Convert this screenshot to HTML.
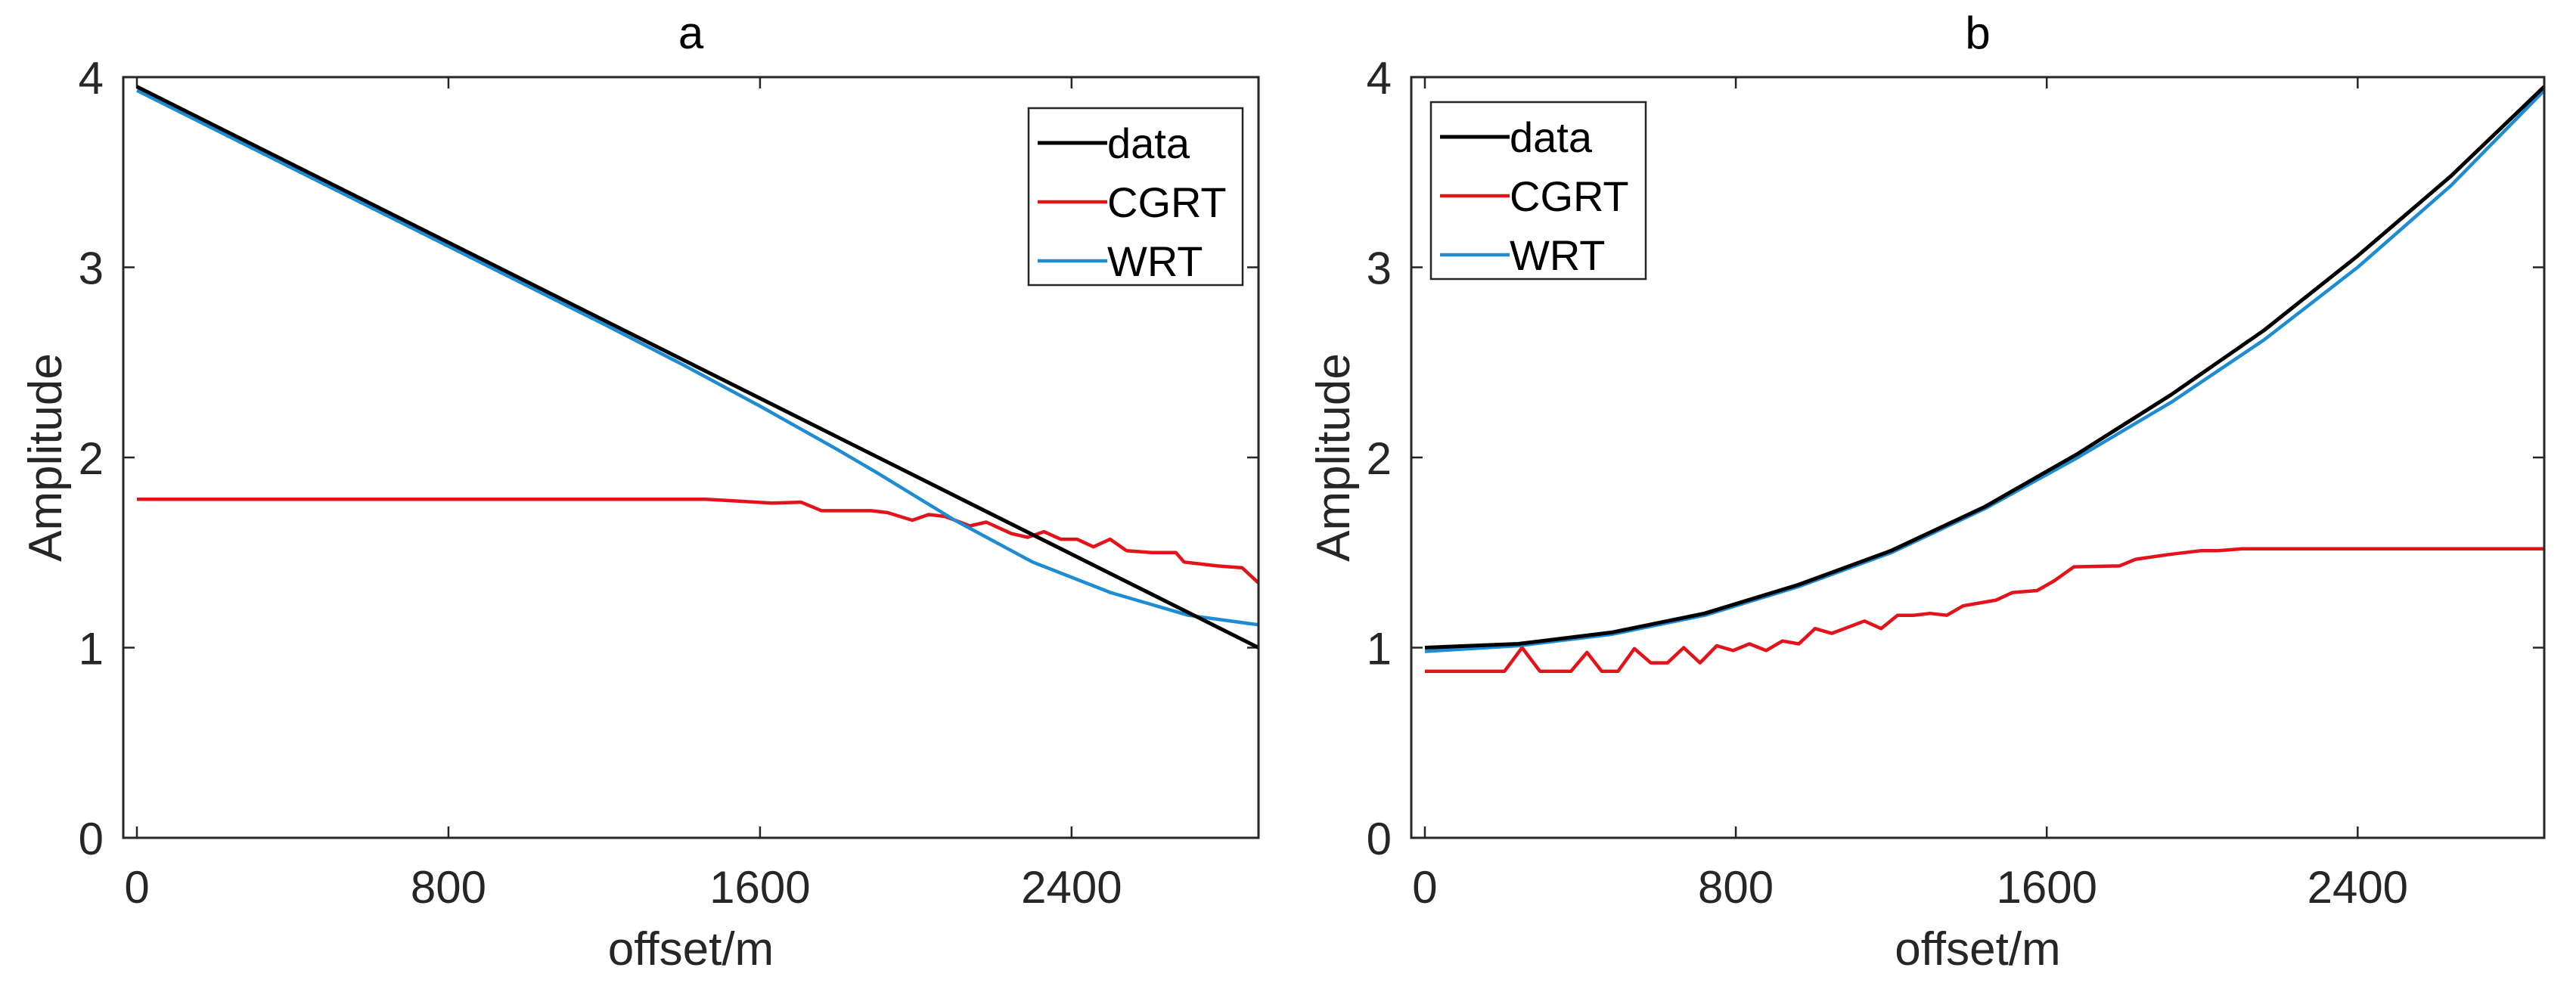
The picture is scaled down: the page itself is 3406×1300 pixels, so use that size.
<!DOCTYPE html>
<html><head><meta charset="utf-8"><style>
html,body{margin:0;padding:0;background:#fff;}
svg{display:block;font-family:"Liberation Sans",Arial,sans-serif;}
</style></head><body>
<svg id="fig" width="3406" height="1300" viewBox="0 0 3406 1300" xmlns="http://www.w3.org/2000/svg"></svg>
<script>
const xTicks = [0, 800, 1600, 2400];
const yTicks = [0, 1, 2, 3, 4];
const seriesNames = ["data", "CGRT", "WRT"];
// Panel a
const aDataX = [0, 2880];
const aDataY = [3.95, 1.0];
const aWrtX = [0, 400, 800, 1200, 1400, 1600, 1800, 1900, 2100, 2300, 2500, 2700, 2880];
const aWrtY = [3.93, 3.52, 3.11, 2.70, 2.49, 2.27, 2.04, 1.92, 1.67, 1.45, 1.29, 1.17, 1.12];
const aCgrtX = [0, 1461, 1546, 1631, 1705, 1758, 1885, 1927, 1991, 2033, 2075, 2139, 2181, 2245, 2287, 2329, 2372, 2414, 2456, 2499, 2541, 2605, 2668, 2689, 2774, 2838, 2880];
const aCgrtY = [1.78, 1.78, 1.77, 1.76, 1.765, 1.72, 1.72, 1.71, 1.67, 1.70, 1.69, 1.64, 1.66, 1.60, 1.58, 1.61, 1.57, 1.57, 1.53, 1.57, 1.51, 1.50, 1.50, 1.45, 1.43, 1.42, 1.34];
// Panel b
const bDataX = [0, 240, 480, 720, 960, 1200, 1440, 1680, 1920, 2160, 2400, 2640, 2880];
const bDataY = [1.00, 1.02, 1.08, 1.18, 1.33, 1.51, 1.74, 2.02, 2.33, 2.67, 3.06, 3.48, 3.95];
const bWrtX = [0, 240, 480, 720, 960, 1200, 1440, 1680, 1920, 2160, 2400, 2640, 2880];
const bWrtY = [0.98, 1.01, 1.07, 1.17, 1.32, 1.50, 1.73, 2.00, 2.29, 2.62, 3.00, 3.43, 3.93];
const bCgrtX = [0, 205, 250, 296, 376, 417, 455, 497, 539, 581, 624, 666, 708, 751, 793, 835, 878, 920, 962, 1004, 1047, 1131, 1174, 1216, 1258, 1300, 1343, 1385, 1470, 1512, 1575, 1618, 1670, 1787, 1829, 1914, 1998, 2041, 2104, 2880];
const bCgrtY = [0.876, 0.876, 1.0, 0.876, 0.876, 0.975, 0.876, 0.876, 0.995, 0.92, 0.92, 1.0, 0.92, 1.01, 0.985, 1.02, 0.985, 1.035, 1.02, 1.10, 1.075, 1.14, 1.10, 1.17, 1.17, 1.18, 1.17, 1.22, 1.25, 1.29, 1.30, 1.35, 1.425, 1.43, 1.465, 1.49, 1.51, 1.51, 1.52, 1.52];

const NS = "http://www.w3.org/2000/svg";
const svg = document.getElementById("fig");
function mk(tag, attrs, parent) {
  const e = document.createElementNS(NS, tag);
  for (const k in attrs) e.setAttribute(k, attrs[k]);
  (parent || svg).appendChild(e);
  return e;
}
const XMIN = -35, XMAX = 2880, YMIN = 0, YMAX = 4;
const COLORS = ["#000000", "#e3131b", "#1d8cd3"];
const WIDTHS = [5, 4.5, 4.5];
const FS = 60;

function panel(id, L, R, T, B, title, series, legend) {
  const g = mk("g", {});
  
  
  const sx = v => L + (v - XMIN) / (XMAX - XMIN) * (R - L);
  const sy = v => B - (v - YMIN) / (YMAX - YMIN) * (B - T);
  xTicks.forEach(t => {
    const x = sx(t);
    const tk = mk("path", {d: `M${x},${B}V${B-15}M${x},${T}V${T+15}`, stroke: "#262626", "stroke-width": 2.5}, g);
    
    
    const tx = mk("text", {x: x, y: B + 86, "text-anchor": "middle", "font-size": FS, fill: "#262626"}, g);
    tx.textContent = t;
    
    
  });
  yTicks.forEach(t => {
    const y = sy(t);
    const tk = mk("path", {d: `M${L},${y}H${L+15}M${R},${y}H${R-15}`, stroke: "#262626", "stroke-width": 2.5}, g);
    
    
    const tx = mk("text", {x: L - 26, y: y + 22, "text-anchor": "end", "font-size": FS, fill: "#262626"}, g);
    tx.textContent = t;
    
    
  });
  const cp = mk("clipPath", {id: "clip" + id}, g);
  mk("rect", {x: L, y: T, width: R - L, height: B - T}, cp);
  [1, 2, 0].forEach(i => {
    const [xs, ys] = series[i];
    const pts = xs.map((v, j) => sx(v).toFixed(1) + "," + sy(ys[j]).toFixed(1)).join(" ");
    const pl = mk("polyline", {points: pts, fill: "none", stroke: COLORS[i], "stroke-width": WIDTHS[i], "stroke-linejoin": "round", "clip-path": `url(#clip${id})`}, g);
    
    
  });
  const box = mk("rect", {x: L, y: T, width: R - L, height: B - T, fill: "none", stroke: "#262626", "stroke-width": 3}, g);
  
  
  const tt = mk("text", {x: (L + R) / 2, y: 64, "text-anchor": "middle", "font-size": FS, fill: "#000"}, g);
  tt.textContent = title;
  
  
  const xl = mk("text", {x: (L + R) / 2, y: 1276, "text-anchor": "middle", "font-size": 62, fill: "#262626"}, g);
  xl.textContent = "offset/m";
  
  
  const yc = (T + B) / 2, yx = L - 82;
  const yl = mk("text", {x: yx, y: yc, "text-anchor": "middle", "font-size": 62, fill: "#262626", transform: `rotate(-90 ${yx} ${yc})`}, g);
  yl.textContent = "Amplitude";
  
  
  const lg = mk("g", {}, g);
  
  
  mk("rect", {x: legend.x, y: legend.y, width: legend.w, height: legend.h, fill: "#fff", stroke: "#262626", "stroke-width": 2.5}, lg);
  seriesNames.forEach((n, i) => {
    const ry = legend.y + 46 + i * 78;
    const ent = mk("g", {}, lg);
    
    
    mk("line", {x1: legend.x + 12, x2: legend.x + 104, y1: ry, y2: ry, stroke: COLORS[i], "stroke-width": WIDTHS[i]}, ent);
    const t = mk("text", {x: legend.x + 104, y: ry + 20, "font-size": 56, fill: "#000"}, ent);
    t.textContent = n;
  });
}
panel("a", 163, 1664, 102, 1108, "a",
  [[aDataX, aDataY], [aCgrtX, aCgrtY], [aWrtX, aWrtY]],
  {x: 1360, y: 143, w: 283, h: 234});
panel("b", 1866, 3364, 102, 1108, "b",
  [[bDataX, bDataY], [bCgrtX, bCgrtY], [bWrtX, bWrtY]],
  {x: 1892, y: 135, w: 284, h: 234});
</script>
</body></html>
